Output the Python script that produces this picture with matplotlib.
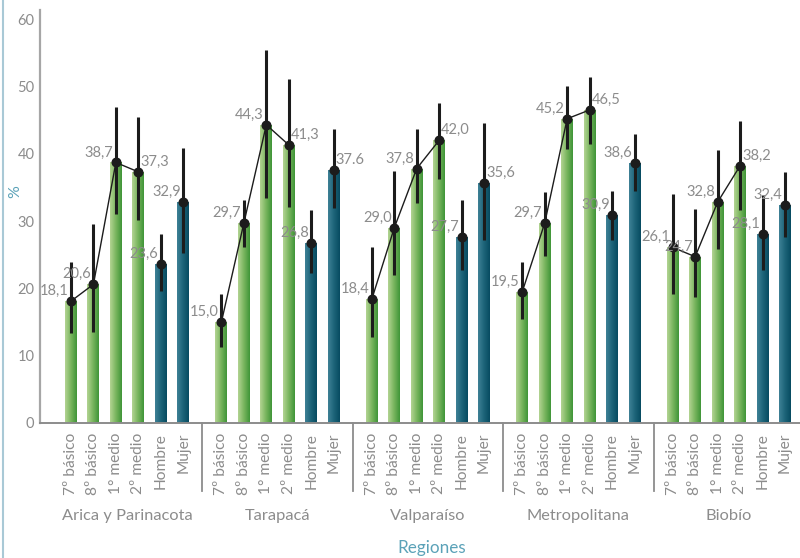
import numpy as np
import matplotlib
matplotlib.use("Agg")
import matplotlib.pyplot as plt
from matplotlib.colors import LinearSegmentedColormap
import matplotlib.transforms as mtransforms

# ---------------- data ----------------
regions = ["Arica y Parinacota", "Tarapacá", "Valparaíso", "Metropolitana", "Biobío"]
categories = ["7º básico", "8º básico", "1° medio", "2º medio", "Hombre", "Mujer"]

arica = [18.1, 20.6, 38.7, 37.3, 23.6, 32.9]
tarapaca = [15.0, 29.7, 44.3, 41.3, 26.8, 37.6]
valparaiso = [18.4, 29.0, 37.8, 42.0, 27.7, 35.6]
metropolitana = [19.5, 29.7, 45.2, 46.5, 30.9, 38.6]
biobio = [26.1, 24.7, 32.8, 38.2, 28.1, 32.4]

arica_lo = [13.4, 13.5, 31.1, 30.1, 19.6, 25.3]
arica_hi = [23.9, 29.5, 46.9, 45.4, 28.1, 40.8]
tarapaca_lo = [11.3, 26.2, 33.4, 32.1, 22.3, 31.9]
tarapaca_hi = [19.2, 33.2, 55.4, 51.1, 31.7, 43.6]
valparaiso_lo = [12.8, 22.0, 32.7, 36.3, 22.8, 27.2]
valparaiso_hi = [26.1, 37.5, 43.6, 47.5, 33.1, 44.6]
metropolitana_lo = [15.5, 24.8, 40.7, 41.4, 27.2, 34.5]
metropolitana_hi = [23.9, 34.3, 50.1, 51.4, 34.5, 42.9]
biobio_lo = [19.1, 18.7, 25.9, 31.7, 22.8, 27.6]
biobio_hi = [34.0, 31.8, 40.5, 44.8, 33.9, 37.3]

yticks = [0, 10, 20, 30, 40, 50, 60]

series = [arica, tarapaca, valparaiso, metropolitana, biobio]
lows = [arica_lo, tarapaca_lo, valparaiso_lo, metropolitana_lo, biobio_lo]
highs = [arica_hi, tarapaca_hi, valparaiso_hi, metropolitana_hi, biobio_hi]

# label placement (L = left of point, R = right of point)
label_sides = ["LLLRLL", "LLLRLR", "LLLRLR", "LLLRLL", "LLLRLL"]
period_labels = {(1, 5)}  # label printed with a period in the original

# ---------------- style ----------------
NARROW = ["Liberation Sans Narrow", "Lato", "DejaVu Sans"]
LIGHT = ["Lato", "DejaVu Sans"]
GRAY_TXT = "#8c8c8c"
BLUE_TXT = "#5ba2b8"
green_cmap = LinearSegmentedColormap.from_list("g", ["#b3d493", "#79b55e", "#3f9538"])
blue_cmap = LinearSegmentedColormap.from_list("b", ["#3f8196", "#1d6479", "#074b61"])

fig = plt.figure(figsize=(8.0, 5.58), dpi=100)
ax = fig.add_axes([0.05, 135 / 558, 0.95, 413 / 558])

group_gap = 6.7
bar_w = 0.53
ymax = 61.35
xmin, xmax = -1.38, 4 * group_gap + 5 + 0.67

for g, vals in enumerate(series):
    xs = g * group_gap + np.arange(len(categories))
    cols = ["#6aab50"] * 4 + ["#1b5f75"] * 2
    bars = ax.bar(xs, vals, width=bar_w, color=cols, zorder=2)
    grad = np.linspace(0, 1, 64).reshape(1, -1)
    for i, b in enumerate(bars):
        x0 = b.get_x()
        x1 = x0 + b.get_width()
        h = b.get_height()
        cm = green_cmap if i < 4 else blue_cmap
        im = ax.imshow(grad, extent=[x0, x1, 0, h], aspect="auto", cmap=cm,
                       zorder=2.5, interpolation="bilinear")
        im.set_clip_path(b)
    v = np.array(vals)
    lo = np.array(lows[g])
    hi = np.array(highs[g])
    ax.errorbar(xs, v, yerr=[v - lo, hi - v], fmt="none", ecolor="#1c1c1c",
                elinewidth=2.2, capsize=0, zorder=4)
    ax.plot(xs[:4], v[:4], color="#1c1c1c", lw=1.0, zorder=5)
    ax.plot(xs, v, ls="none", marker="o", ms=6.2, color="#1c1c1c", zorder=6)
    for i, (x, y) in enumerate(zip(xs, v)):
        txt = f"{y:.1f}"
        if (g, i) not in period_labels:
            txt = txt.replace(".", ",")
        if label_sides[g][i] == "L":
            ax.annotate(txt, (x, y), xytext=(-1.8, 7.2), textcoords="offset points",
                        ha="right", va="center", color=GRAY_TXT, fontsize=10.5,
                        family=NARROW, zorder=7)
        else:
            ax.annotate(txt, (x, y), xytext=(1.5, 7.2), textcoords="offset points",
                        ha="left", va="center", color=GRAY_TXT, fontsize=10.5,
                        family=NARROW, zorder=7)

ax.set_xlim(xmin, xmax)
ax.set_ylim(0, ymax)

# x ticks
all_x = [g * group_gap + i for g in range(len(regions)) for i in range(len(categories))]
all_lbl = categories * len(regions)
ax.set_xticks(all_x)
ax.set_xticklabels(all_lbl, rotation=90, family=LIGHT, fontsize=11.2,
                   color=GRAY_TXT)
ax.tick_params(axis="x", length=0, pad=7)
ax.set_yticks(yticks)
ax.set_yticklabels([str(t) for t in yticks], family=NARROW, fontsize=10.5, color=GRAY_TXT)
ax.tick_params(axis="y", length=0, pad=4)

for s in ["top", "right"]:
    ax.spines[s].set_visible(False)
ax.spines["left"].set_color("#a6a6a6")
ax.spines["left"].set_linewidth(1.6)
ax.spines["bottom"].set_color("#8c8c8c")
ax.spines["bottom"].set_linewidth(1.4)

trans = mtransforms.blended_transform_factory(ax.transData, ax.transAxes)
# group separators
for g in range(len(regions) - 1):
    xsep = g * group_gap + 5 + (group_gap - 5) / 2
    ax.plot([xsep, xsep], [0, -68 / 413], transform=trans, color="#8c8c8c",
            lw=1.3, clip_on=False)
# region names
for g, name in enumerate(regions):
    xc = g * group_gap + 2.5
    ax.text(xc, -93 / 413, name, transform=trans, ha="center", va="center",
            family=LIGHT, fontsize=11.8, color=GRAY_TXT)

fig.text(432 / 800, 1 - 548 / 558, "Regiones", ha="center", va="center",
         family=LIGHT, fontsize=12.3, color=BLUE_TXT)
fig.text(15 / 800, 1 - 192 / 558, "%", ha="center", va="center", rotation=90,
         family=LIGHT, fontsize=11.5, color=BLUE_TXT)

# left border line
fig.add_artist(plt.Line2D([3 / 800, 3 / 800], [0, 1], transform=fig.transFigure,
                          color="#a9c9d6", lw=1.5))

fig.savefig("out.png", dpi=100)
